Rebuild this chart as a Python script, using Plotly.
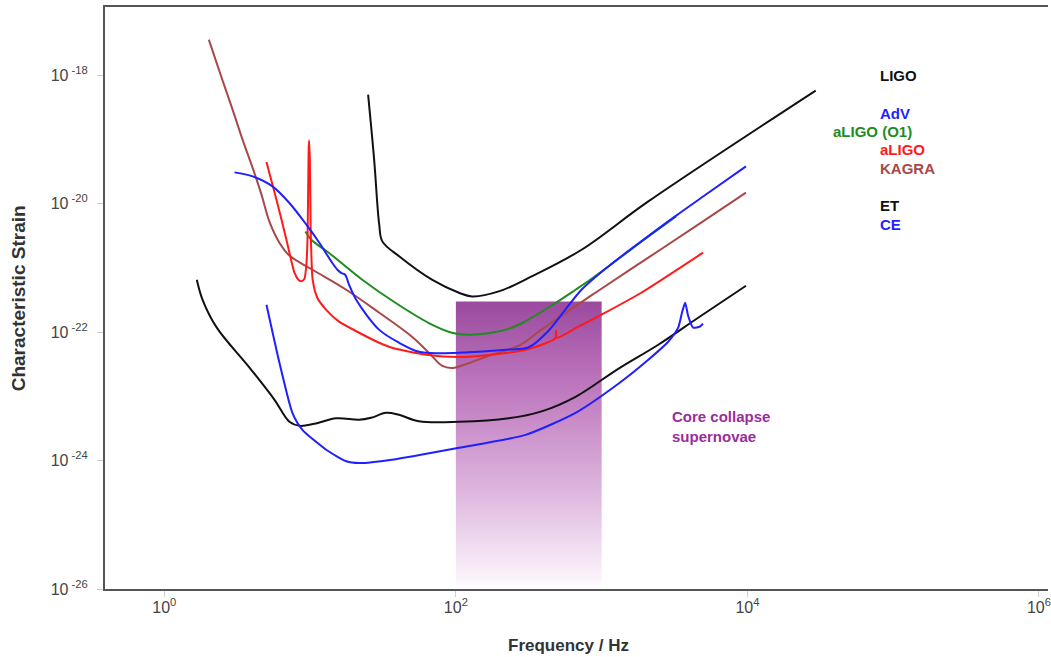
import plotly.graph_objects as go

# ---------------- data (frequency in Hz, characteristic strain) ----------------
ligo_f = [25, 27.5, 29.8, 31.3, 40.8, 68.5, 105, 129, 197, 331, 728, 2090, 29400]
ligo_h = [4.97e-19, 4.83e-20, 4.69e-21, 2.58e-21, 1.51e-21, 6.53e-22, 4.09e-22,
          3.59e-22, 4.29e-22, 7.35e-22, 1.91e-21, 1.08e-20, 5.74e-19]

et_f = [1.67, 1.83, 2.29, 3.85, 5.70, 7.21, 8.45, 10.7, 15.1, 21.7, 26.2, 33.2,
        40.7, 55.8, 105, 230, 387, 662, 1300, 2445, 4590, 9780]
et_h = [6.53e-22, 3.18e-22, 1.17e-22, 2.78e-23, 8.82e-24, 4.01e-24, 3.47e-24,
        3.73e-24, 4.54e-24, 4.30e-24, 4.62e-24, 5.53e-24, 5.15e-24, 4.08e-24,
        4.01e-24, 4.54e-24, 5.83e-24, 9.82e-24, 2.68e-23, 6.34e-23, 1.67e-22,
        5.26e-22]

ce_f = [5.02, 6.16, 7.56, 8.86, 12.9, 17.7, 21.7, 36.5, 105, 301, 662, 1302,
        2090, 2860, 3350, 3570, 3740, 3920, 4240, 4730, 4960]
ce_h = [2.66e-22, 3.33e-23, 5.53e-24, 3.01e-24, 1.47e-24, 9.72e-25, 9.12e-25,
        1.03e-24, 1.58e-24, 2.51e-24, 5.53e-24, 1.57e-23, 3.71e-23, 7.07e-23,
        1.17e-22, 2.07e-22, 2.86e-22, 1.79e-22, 1.17e-22, 1.22e-22, 1.35e-22]

adv_f = [3.03, 4.03, 5.52, 7.21, 9.43, 11.6, 14.2, 15.4, 16.4, 17.4, 18.5, 20.7,
         29.7, 40.8, 55.8, 76.5, 105, 220, 316, 432, 562, 728, 1112, 1870, 3190,
         5370, 9770]
adv_h = [3.06e-20, 2.65e-20, 1.85e-20, 1.02e-20, 4.69e-21, 2.43e-21, 1.19e-21,
         9.33e-22, 8.29e-22, 7.81e-22, 5.46e-22, 3.18e-22, 1.09e-22, 6.81e-23,
         4.93e-23, 4.68e-23, 4.76e-23, 5.30e-23, 5.79e-23, 1.05e-22, 2.22e-22,
         4.56e-22, 1.05e-21, 2.58e-21, 6.32e-21, 1.46e-20, 3.79e-20]

o1_f = [9.28, 10.2, 13.5, 22.8, 38.7, 65.3, 93.9, 123, 168, 230, 283, 387, 483,
        662, 774, 1112, 1870, 3240]
o1_h = [3.69e-21, 2.74e-21, 1.70e-21, 6.53e-22, 2.83e-22, 1.38e-22, 9.75e-23,
        9.08e-23, 9.57e-23, 1.12e-22, 1.37e-22, 2.07e-22, 2.83e-22, 4.56e-22,
        5.79e-22, 1.05e-21, 2.55e-21, 6.32e-21]

aligo_f = [5.02, 5.88, 6.88, 7.81, 8.31, 8.72, 9.14, 9.43, 9.62, 9.77, 9.85,
           9.96, 10.09, 10.20, 10.41, 11.2, 12.9, 15.8, 21.7, 29.8, 36.5, 62.3,
           105, 176, 301, 479, 487, 494, 693, 996, 1870, 4960]
aligo_h = [4.42e-20, 1.15e-20, 2.74e-21, 8.39e-22, 6.53e-22, 6.18e-22, 6.76e-22,
           1.12e-21, 3.52e-21, 6.92e-20, 9.55e-20, 4.83e-20, 3.92e-21, 1.60e-21,
           6.53e-22, 3.42e-22, 2.22e-22, 1.45e-22, 9.75e-23, 6.81e-23, 5.69e-23,
           4.43e-23, 4.08e-23, 4.43e-23, 5.30e-23, 7.87e-23, 1.05e-22, 8.15e-23,
           1.21e-22, 1.86e-22, 4.09e-22, 1.72e-21]

kagra_f = [2.02, 2.43, 2.94, 3.44, 4.03, 4.64, 5.26, 6.16, 7.21, 10.4, 17.7, 29.8,
           50.0, 65.3, 80.2, 93.9, 114, 176, 270, 369, 506, 950, 2090, 4590, 9770]
kagra_h = [3.57e-18, 1.02e-18, 2.90e-19, 9.89e-20, 3.62e-20, 1.38e-20, 5.23e-21,
           2.46e-21, 1.55e-21, 9.33e-22, 4.56e-22, 2.00e-22, 8.45e-23, 4.76e-23,
           2.99e-23, 2.75e-23, 3.10e-23, 4.43e-23, 6.12e-23, 1.01e-22, 1.67e-22,
           4.40e-22, 1.44e-21, 4.69e-21, 1.48e-20]

# core-collapse supernova band
sn_f = [100, 1000]
sn_h_top = 3.0e-22
sn_h_bottom = 1.0e-26

tick_x_vals = [1, 100, 1e4, 1e6]
tick_x_text = ["10<sup>0</sup>", "10<sup>2</sup>", "10<sup>4</sup>", "10<sup>6</sup>"]
tick_y_vals = [1e-26, 1e-24, 1e-22, 1e-20, 1e-18]
tick_y_text = ["10<sup>&nbsp;-26</sup>", "10<sup>&nbsp;-24</sup>", "10<sup>&nbsp;-22</sup>",
               "10<sup>&nbsp;-20</sup>", "10<sup>&nbsp;-18</sup>"]

labels = ["LIGO", "AdV", "aLIGO (O1)", "aLIGO", "KAGRA", "ET", "CE"]

# ---------------- styling ----------------
C_BLACK = "#111111"
C_BLUE = "#1f1fff"
C_GREEN = "#1e8c1e"
C_RED = "#ff1a1a"
C_BROWN = "#a84848"
C_PURPLE = "#9a2c9c"
FONT = "Liberation Sans, Arial, sans-serif"

fig = go.Figure()

# supernova band with vertical gradient
fig.add_trace(go.Scatter(
    x=[sn_f[0], sn_f[1], sn_f[1], sn_f[0], sn_f[0]],
    y=[sn_h_top, sn_h_top, sn_h_bottom, sn_h_bottom, sn_h_top],
    mode="lines", line=dict(width=0), fill="toself",
    fillgradient=dict(type="vertical",
                      colorscale=[[0.0, "rgba(255,255,255,1)"],
                                  [0.04, "rgba(250,242,250,1)"],
                                  [0.35, "rgba(221,180,221,1)"],
                                  [0.7, "rgba(190,120,190,1)"],
                                  [1.0, "rgba(155,74,158,1)"]]),
    hoverinfo="skip", showlegend=False))

curves = [
    (ligo_f, ligo_h, C_BLACK, 1.0),
    (et_f, et_h, C_BLACK, 1.0),
    (kagra_f, kagra_h, C_BROWN, 1.0),
    (o1_f, o1_h, C_GREEN, 1.0),
    (aligo_f, aligo_h, C_RED, 0.6),
    (adv_f, adv_h, C_BLUE, 0.9),
    (ce_f, ce_h, C_BLUE, 0.6),
]
for fx, hy, col, sm in curves:
    fig.add_trace(go.Scatter(x=fx, y=hy, mode="lines",
                             line=dict(color=col, width=2, shape="spline", smoothing=sm),
                             showlegend=False, hoverinfo="skip"))

# detector labels (paper coords)
label_specs = [
    ("LIGO", C_BLACK, 880, 75, "left"),
    ("AdV", C_BLUE, 880, 113, "left"),
    ("aLIGO (O1)", C_GREEN, 917, 131, "right"),
    ("aLIGO", C_RED, 880, 149, "left"),
    ("KAGRA", C_BROWN, 880, 168, "left"),
    ("ET", C_BLACK, 880, 205, "left"),
    ("CE", C_BLUE, 880, 224, "left"),
]
L, T, W, H = 105, 7, 946, 582
def px2paper(px, py):
    return (px - L) / W, 1 - (py - T) / H

for txt, col, px, py, anc in label_specs:
    xp, yp = px2paper(px, py)
    fig.add_annotation(x=xp, y=yp, xref="paper", yref="paper", text="<b>%s</b>" % txt,
                       showarrow=False, xanchor=anc, yanchor="middle",
                       font=dict(family=FONT, size=15, color=col))

xp, yp = px2paper(672, 426)
fig.add_annotation(x=xp, y=yp, xref="paper", yref="paper",
                   text="<b>Core collapse<br>supernovae</b>", showarrow=False,
                   xanchor="left", yanchor="middle", align="left",
                   font=dict(family=FONT, size=15, color=C_PURPLE))

# axis titles
xp, yp = px2paper(570, 645)
fig.add_annotation(x=xp, y=yp, xref="paper", yref="paper", text="<b>Frequency / Hz</b>",
                   showarrow=False, xanchor="center", yanchor="middle",
                   font=dict(family=FONT, size=17, color="#333333"))
xp, yp = px2paper(18, 298)
fig.add_annotation(x=xp, y=yp, xref="paper", yref="paper", text="<b>Characteristic Strain</b>",
                   showarrow=False, xanchor="center", yanchor="middle", textangle=-90,
                   font=dict(family=FONT, size=19, color="#333333"))

fig.update_layout(
    width=1051, height=657,
    margin=dict(l=L, r=0, t=T, b=657 - T - H),
    paper_bgcolor="white", plot_bgcolor="white",
    showlegend=False,
    xaxis=dict(type="log", range=[-0.407, 6.062], showgrid=False, zeroline=False,
               tickmode="array", tickvals=tick_x_vals, ticktext=tick_x_text,
               ticks="outside", ticklen=6, tickcolor="#cccccc",
               showline=True, linecolor="#555555", linewidth=2, mirror=True,
               ticklabelstandoff=-3, ticklabeloverflow="allow",
               tickfont=dict(family=FONT, size=16, color="#444444")),
    yaxis=dict(type="log", range=[-26, -16.94], showgrid=False, zeroline=False,
               tickmode="array", tickvals=tick_y_vals, ticktext=tick_y_text,
               ticks="outside", ticklen=6, tickcolor="#cccccc",
               showline=True, linecolor="#555555", linewidth=2, mirror=False,
               ticklabelstandoff=6,
               tickfont=dict(family=FONT, size=16, color="#444444")),
)

fig.write_html("out.html", config={"displayModeBar": False},
               post_script="document.body.style.margin='0px';")
